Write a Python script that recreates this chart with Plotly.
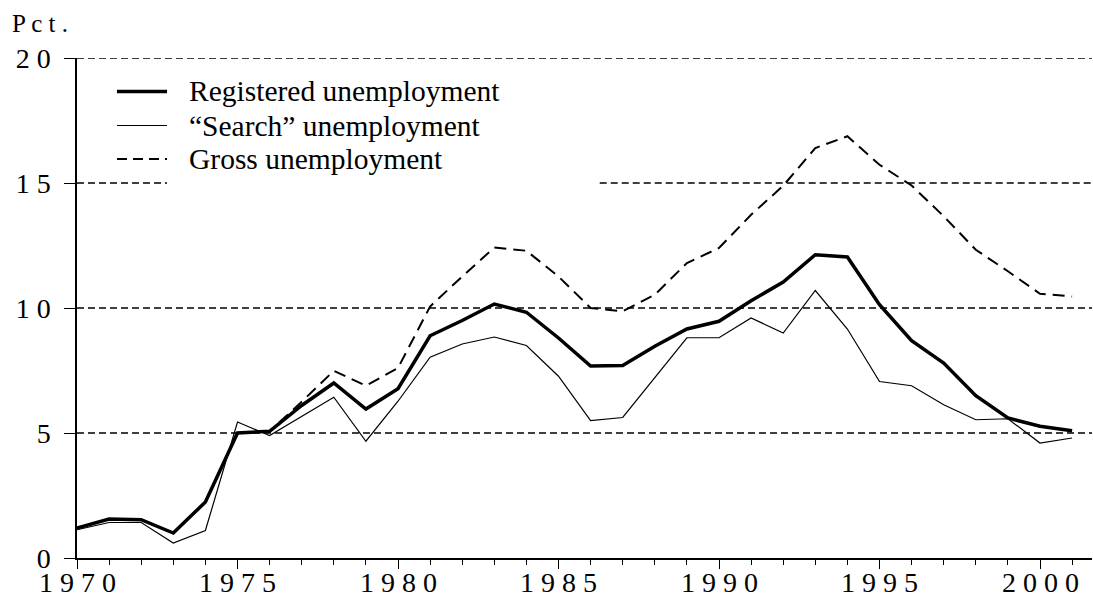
import plotly.graph_objects as go

years = list(range(1970, 2002))
registered = [1.2, 1.56, 1.53, 1.0, 2.24, 5.0, 5.07, 6.1, 7.0, 5.96, 6.77, 8.89, 9.5, 10.16, 9.83, 8.8,
              7.68, 7.7, 8.47, 9.16, 9.47, 10.29, 11.04, 12.13, 12.04, 10.13, 8.69, 7.8, 6.49, 5.6, 5.27, 5.09]
search = [1.13, 1.42, 1.42, 0.6, 1.1, 5.44, 4.9, 5.67, 6.43, 4.67, 6.27, 8.03, 8.56, 8.84, 8.5, 7.27,
          5.5, 5.62, 7.22, 8.81, 8.81, 9.6, 9.0, 10.7, 9.16, 7.06, 6.89, 6.13, 5.53, 5.57, 4.6, 4.8]
gross = [1.2, 1.56, 1.53, 1.0, 2.24, 5.0, 5.07, 6.25, 7.49, 6.89, 7.6, 10.06, 11.26, 12.42, 12.29, 11.26,
         10.0, 9.87, 10.53, 11.8, 12.4, 13.73, 14.89, 16.4, 16.87, 15.73, 14.9, 13.67, 12.33, 11.47, 10.57, 10.46]

series_names = ["Registered unemployment", "\u201cSearch\u201d unemployment", "Gross unemployment"]

x_tickvals = [1970, 1975, 1980, 1985, 1990, 1995, 2000]
x_ticktext = ["1 9 7 0", "1 9 7 5", "1 9 8 0", "1 9 8 5", "1 9 9 0", "1 9 9 5", "2 0 0 0"]
y_tickvals = [0, 5, 10, 15, 20]
y_ticktext = ["0", "5", "1 0", "1 5", "2 0"]
grid_vals = [5, 10, 20]
y_unit = "P c t ."

FONT = "Liberation Serif"

fig = go.Figure()
fig.add_trace(go.Scatter(x=years, y=gross, mode="lines", name=series_names[2],
                         line=dict(color="black", width=2, dash="12px,7px"), showlegend=False))
fig.add_trace(go.Scatter(x=years, y=search, mode="lines", name=series_names[1],
                         line=dict(color="black", width=1.2), showlegend=False))
fig.add_trace(go.Scatter(x=years, y=registered, mode="lines", name=series_names[0],
                         line=dict(color="black", width=3.5), showlegend=False))

GRID = dict(color="black", width=1.3, dash="7px,4px")
shapes = []
for g in grid_vals:
    shapes.append(dict(type="line", xref="paper", yref="y", x0=0, x1=1, y0=g, y1=g,
                       line=GRID, layer="below"))
# 15 gridline, interrupted by legend box
shapes.append(dict(type="line", xref="paper", yref="y", x0=0, x1=0.0887, y0=15, y1=15,
                   line=GRID, layer="below"))
shapes.append(dict(type="line", xref="paper", yref="y", x0=0.515, x1=1, y0=15, y1=15,
                   line=GRID, layer="below"))

# manual legend
leg_y = [0.933, 0.865, 0.798]
leg_styles = [dict(color="black", width=3.5), dict(color="black", width=1.2),
              dict(color="black", width=2, dash="10px,6px")]
annotations = []
for i in range(3):
    shapes.append(dict(type="line", xref="paper", yref="paper", x0=0.0394, x1=0.0887,
                       y0=leg_y[i], y1=leg_y[i], line=leg_styles[i]))
    annotations.append(dict(xref="paper", yref="paper", x=0.108, y=leg_y[i], text=series_names[i],
                            showarrow=False, xanchor="left", yanchor="middle",
                            font=dict(family=FONT, size=29.5, color="black")))
annotations.append(dict(xref="paper", yref="paper", x=-0.066, y=1.068, text=y_unit, showarrow=False,
                        xanchor="left", yanchor="middle", font=dict(family=FONT, size=25, color="black")))
# x tick labels (placed closer to the axis than plotly's default)
for v, t in zip(x_tickvals, x_ticktext):
    annotations.append(dict(xref="x", yref="paper", x=v, y=-0.048, text=t, showarrow=False,
                            xanchor="center", yanchor="middle",
                            font=dict(family=FONT, size=28, color="black")))

fig.update_layout(
    width=1093, height=598,
    margin=dict(l=77, r=1, t=58, b=40),
    paper_bgcolor="white", plot_bgcolor="white",
    shapes=shapes, annotations=annotations,
    font=dict(family=FONT, size=28, color="black"),
    xaxis=dict(range=[1970, 2001.62], showgrid=False, zeroline=False, automargin=False,
               showline=True, linecolor="black", linewidth=2,
               ticks="outside", ticklen=9, tickwidth=1.2, tickcolor="black",
               tickvals=x_tickvals, showticklabels=False,
               minor=dict(dtick=1, tick0=1970, ticks="outside", ticklen=5, tickwidth=1.2,
                          tickcolor="black", showgrid=False)),
    yaxis=dict(range=[0, 20], showgrid=False, zeroline=False, automargin=False,
               showline=True, linecolor="black", linewidth=1.5,
               ticks="outside", ticklen=11, tickwidth=1.2, tickcolor="black",
               tickvals=y_tickvals, ticktext=y_ticktext, ticklabelstandoff=8,
               tickfont=dict(family=FONT, size=28, color="black")),
)

fig.write_html("out.html", config={"displayModeBar": False},
               post_script="document.body.style.margin='0';document.body.style.overflow='hidden';")
